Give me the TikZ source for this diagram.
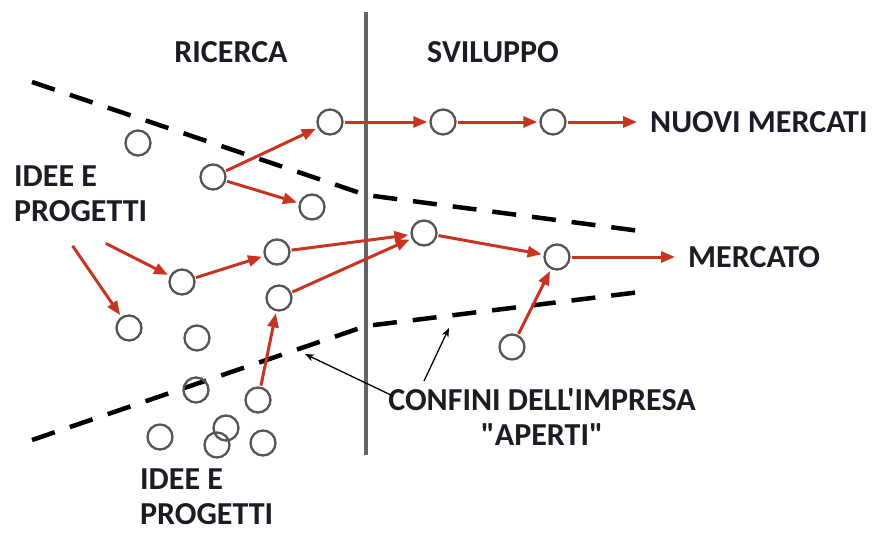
\documentclass[tikz,border=0pt]{standalone}
\usepackage{fontspec}
\setmainfont[Ligatures=TeXOff]{Carlito}
\usetikzlibrary{arrows.meta}
\definecolor{arrred}{RGB}{200,52,34}
\definecolor{circgray}{RGB}{85,85,85}
\definecolor{txtdark}{RGB}{28,28,38}
\definecolor{vgray}{RGB}{100,100,100}
\begin{document}
\begin{tikzpicture}[x=1pt,y=-1pt,
  dot/.style={circle,draw=circgray,line width=2.3pt,minimum size=25pt,inner sep=0pt},
  lbl/.style={font=\fontsize{32}{35}\selectfont\bfseries,text=txtdark,inner sep=0pt},
  redarr/.style={draw=arrred,line width=3pt,-{Triangle[length=14pt,width=11pt]},shorten >=2pt,shorten <=1pt},
  blkarr/.style={draw=black,line width=1.3pt,-{Stealth[length=9pt,width=7pt]}},
  bound/.style={draw=black,line width=4.5pt,dash pattern=on 24pt off 16pt}]
\useasboundingbox (0,0) rectangle (882,532);
% vertical divider
\coordinate (vt) at (366,12);
\coordinate (vb) at (366,455);
\draw[vgray,line width=4pt] (vt) -- (vb);
% boundaries
\coordinate (u1) at (32,82);
\coordinate (u2) at (366,195);
\coordinate (u3) at (640,231);
\coordinate (l1) at (32,440);
\coordinate (l2) at (366,326);
\coordinate (l3) at (640,292);
\draw[bound] (u1) -- (u2) -- (u3);
\draw[bound] (l1) -- (l2) -- (l3);
% circles
\node[dot] (c1) at (138,143) {};
\node[dot] (c2) at (213,177) {};
\node[dot] (c3) at (330,122) {};
\node[dot] (c4) at (312,207) {};
\node[dot] (c5) at (443,122) {};
\node[dot] (c6) at (553,122) {};
\node[dot] (c7) at (424,233) {};
\node[dot] (c8) at (557,257) {};
\node[dot] (c9) at (512,347) {};
\node[dot] (c10) at (277,252) {};
\node[dot] (c11) at (182,282) {};
\node[dot] (c12) at (279,298) {};
\node[dot] (c13) at (129,328) {};
\node[dot] (c14) at (197,338) {};
\node[dot] (c15) at (196,390) {};
\node[dot] (c16) at (258,400) {};
\node[dot] (c17) at (160,437) {};
\node[dot] (c18) at (226,428) {};
\node[dot] (c19) at (217,445) {};
\node[dot] (c20) at (263,443) {};
% labels
\node[lbl] (ric) at (231,52) {RICERCA};
\node[lbl] (svi) at (493,52) {SVILUPPO};
\node[lbl,anchor=west] (nm) at (650,122) {NUOVI MERCATI};
\node[lbl,anchor=west] (merc) at (688,257) {MERCATO};
\node[lbl,anchor=west,align=left] (idl) at (14,194) {IDEE E\\PROGETTI};
\node[lbl,anchor=west,align=left] (idb) at (140,497) {IDEE E\\PROGETTI};
\node[lbl,align=center] (conf) at (542,417) {CONFINI DELL'IMPRESA\\"APERTI"};
% red arrows
\coordinate (s1) at (105,243);
\coordinate (s2) at (72,245);
\draw[redarr] (c2) -- (c3);
\draw[redarr] (c2) -- (c4);
\draw[redarr] (c3) -- (c5);
\draw[redarr] (c5) -- (c6);
\draw[redarr,shorten >=13pt] (c6) -- (nm);
\draw[redarr] (s1) -- (c11);
\draw[redarr] (s2) -- (c13);
\draw[redarr] (c11) -- (c10);
\draw[redarr] (c10) -- (c7);
\draw[redarr] (c12) -- (c7);
\draw[redarr] (c16) -- (c12);
\draw[redarr] (c7) -- (c8);
\draw[redarr,shorten >=13pt] (c8) -- (merc);
\draw[redarr] (c9) -- (c8);
% black pointers
\coordinate (p1s) at (393,396);
\coordinate (p1e) at (305,354);
\coordinate (p2s) at (424,381);
\coordinate (p2e) at (449,328);
\draw[blkarr] (p1s) -- (p1e);
\draw[blkarr] (p2s) -- (p2e);
\end{tikzpicture}
\end{document}
